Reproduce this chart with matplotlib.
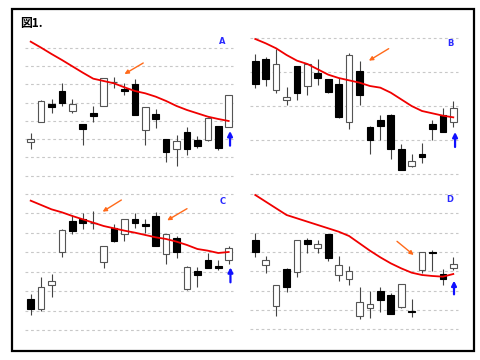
import numpy as np
import matplotlib
matplotlib.use("Agg")
import matplotlib.pyplot as plt
from matplotlib.patches import Rectangle

plt.rcParams['font.family'] = ['Noto Sans CJK JP', 'DejaVu Sans']

# ---- data: open / high / low / close and moving average per panel ----
a_open = [17.4, 23.5, 28.9, 32.8, 26.8, 22.9, 26.0, 28.3, 35.5, 33.3, 34.8, 21.1, 25.9, 18.4, 15.2, 20.4, 18.0, 18.1, 22.1, 22.0]
a_high = [20.0, 30.0, 30.2, 35.0, 30.4, 22.9, 28.3, 36.7, 36.8, 35.0, 36.2, 28.0, 27.3, 18.4, 19.5, 21.9, 19.2, 24.8, 22.1, 31.6]
a_low = [15.3, 23.5, 26.2, 28.2, 26.2, 16.4, 23.5, 28.3, 33.5, 31.5, 25.4, 16.6, 21.7, 11.4, 10.3, 13.5, 15.6, 17.6, 15.0, 22.0]
a_close = [18.2, 29.8, 27.9, 29.2, 28.8, 21.4, 25.2, 36.5, 35.5, 32.6, 25.4, 28.0, 24.4, 14.5, 17.6, 15.4, 16.2, 24.5, 15.6, 31.4]
a_ma = [47.5, 45.7, 43.8, 42.0, 40.1, 38.2, 36.4, 35.7, 35.0, 33.8, 32.7, 32.0, 31.0, 29.7, 28.2, 27.0, 26.0, 25.0, 24.3, 23.7]

b_open = [41.7, 42.2, 33.0, 30.1, 40.2, 34.2, 38.2, 36.2, 34.7, 23.3, 38.7, 22.0, 23.9, 25.5, 15.3, 10.3, 13.8, 22.9, 25.5, 23.3]
b_high = [43.7, 43.0, 45.2, 34.0, 40.2, 40.7, 42.2, 36.2, 36.7, 44.0, 41.7, 22.2, 25.5, 25.7, 16.8, 13.8, 17.2, 24.0, 27.6, 29.6]
b_low = [33.5, 34.2, 32.0, 28.5, 30.0, 31.5, 34.5, 32.0, 24.5, 21.3, 28.5, 13.7, 17.9, 12.2, 9.1, 10.0, 11.2, 17.9, 20.4, 21.9]
b_close = [34.7, 36.2, 40.7, 31.0, 32.0, 40.7, 36.6, 32.5, 24.8, 43.5, 31.5, 17.9, 22.3, 15.2, 9.1, 11.7, 12.8, 21.4, 20.4, 27.6]
b_ma = [48.3, 47.0, 45.5, 43.5, 41.8, 40.8, 39.2, 37.6, 36.6, 35.9, 35.2, 34.2, 33.7, 32.2, 30.2, 28.2, 26.7, 26.0, 25.3, 24.8]

c_open = [14.4, 11.4, 18.4, 28.3, 37.8, 38.4, 37.0, 25.5, 35.5, 33.7, 38.4, 36.7, 39.1, 27.9, 32.5, 17.2, 22.7, 26.1, 24.3, 26.0]
c_high = [15.7, 20.8, 21.8, 35.2, 39.5, 40.2, 40.7, 30.3, 36.7, 38.4, 40.2, 38.2, 40.3, 33.7, 33.2, 24.2, 23.8, 28.1, 26.0, 30.2]
c_low = [9.5, 10.8, 14.8, 27.0, 33.7, 35.4, 35.4, 23.7, 31.3, 31.8, 35.5, 34.0, 30.1, 24.9, 26.7, 17.0, 18.0, 23.7, 23.0, 24.8]
c_close = [11.4, 17.9, 19.6, 34.9, 34.8, 37.2, 37.0, 30.3, 31.7, 38.4, 37.2, 36.1, 30.1, 33.7, 28.3, 23.8, 21.4, 23.7, 23.7, 29.5]
c_ma = [43.8, 42.5, 41.2, 40.3, 39.2, 38.2, 37.2, 36.2, 35.5, 34.8, 34.2, 33.5, 32.8, 32.3, 31.5, 30.5, 29.3, 28.8, 28.1, 28.4]

d_open = [31.9, 24.5, 12.1, 23.2, 22.5, 31.9, 29.5, 33.7, 21.4, 20.2, 9.2, 11.6, 16.7, 15.5, 12.0, 10.8, 23.1, 28.5, 21.9, 23.7]
d_high = [34.0, 27.2, 18.6, 23.5, 31.9, 32.7, 32.0, 33.7, 27.1, 24.1, 17.8, 16.7, 17.9, 16.1, 18.9, 14.4, 28.4, 28.9, 23.2, 26.8]
d_low = [26.8, 22.0, 9.3, 16.3, 20.8, 28.0, 28.0, 25.7, 19.7, 18.5, 8.2, 8.7, 10.5, 9.8, 11.6, 8.8, 22.1, 22.7, 18.6, 23.1]
d_close = [28.4, 26.0, 18.6, 17.9, 31.9, 30.8, 30.7, 26.7, 24.4, 22.7, 13.3, 12.7, 13.9, 9.8, 18.7, 10.4, 28.4, 28.1, 20.3, 24.9]
d_ma = [45.5, 43.5, 41.5, 39.5, 38.5, 37.5, 36.5, 35.5, 34.5, 33.2, 31.0, 28.8, 26.8, 25.0, 23.5, 22.2, 21.5, 21.2, 21.0, 21.8]

labels = ["A", "B", "C", "D"]
grid_levels = [np.linspace(7.3, 45.7, 8), np.linspace(7.8, 48.5, 5),
               np.linspace(5.0, 45.8, 8), np.linspace(5.2, 45.8, 8)]
# orange arrows (tail -> head) in (index, price)
orange = [[((10.8, 41.1), (9.0, 37.8))],
          [((12.8, 45.4), (10.9, 41.8))],
          [((8.7, 44.0), (6.9, 40.5)), ((15.0, 41.4), (13.1, 37.9))],
          [((13.6, 31.6), (15.2, 27.5))]]
# blue arrows
blue = [((19.13, 16.3), (19.13, 20.7)), ((19.17, 15.9), (19.17, 20.4)),
        ((19.17, 19.3), (19.17, 23.8)), ((19.07, 15.7), (19.07, 19.8))]
label_pos = [(18.4, 47.7), (18.7, 46.8), (18.4, 43.6), (18.7, 44.3)]

panels = [(a_open, a_high, a_low, a_close, a_ma),
          (b_open, b_high, b_low, b_close, b_ma),
          (c_open, c_high, c_low, c_close, c_ma),
          (d_open, d_high, d_low, d_close, d_ma)]

# layout: pixel boxes and pixel->data mapping
W, H = 480, 360
boxes = [(22, 36, 236, 180), (246, 30, 462, 180), (22, 185, 236, 335), (246, 185, 462, 335)]
x0s = [30.7, 255.3, 30.7, 255.3]
dx = 10.42
yref = [(60, 0), (60, 0), (50, 180), (50, 180)]
grid_px = [(25, 233), (250, 458), (25, 233), (250, 458)]

fig = plt.figure(figsize=(4.8, 3.6), dpi=100)
fig.patch.set_facecolor("white")

for k in range(4):
    o, h, l, c, ma = panels[k]
    px0, py0, px1, py1 = boxes[k]
    ax = fig.add_axes([px0 / W, 1 - py1 / H, (px1 - px0) / W, (py1 - py0) / H])
    ax.set_xlim((px0 - x0s[k]) / dx, (px1 - x0s[k]) / dx)
    top = yref[k][0] - 0.3 * (py0 - yref[k][1])
    bot = yref[k][0] - 0.3 * (py1 - yref[k][1])
    ax.set_ylim(bot, top)
    ax.axis("off")

    gx0 = (grid_px[k][0] - x0s[k]) / dx
    gx1 = (grid_px[k][1] - x0s[k]) / dx
    ax.hlines(grid_levels[k], gx0, gx1, colors="#c8c8c8", linewidth=0.8,
              linestyles=(0, (2.5, 2.5)), zorder=0)

    idx = np.arange(len(o))
    for i in idx:
        ax.vlines(i, l[i], h[i], colors="#444444", linewidth=0.8, zorder=2)
        lo, hi = min(o[i], c[i]), max(o[i], c[i])
        if hi - lo < 0.05:
            ax.hlines(o[i], i - 0.32, i + 0.32, colors="#555555", linewidth=0.9, zorder=3)
            continue
        hgt = max(hi - lo, 0.4)
        fc = "black" if c[i] < o[i] else "white"
        ax.add_patch(Rectangle((i - 0.32, lo), 0.64, hgt, facecolor=fc,
                               edgecolor="#555555" if fc == "white" else "black",
                               linewidth=0.8, zorder=3))

    ax.plot(idx, ma, color="#f00000", linewidth=1.3, zorder=4)

    for tail, head in orange[k]:
        ax.annotate("", xy=head, xytext=tail,
                    arrowprops=dict(arrowstyle="-|>", color="#ff6a1a", lw=1.0,
                                    mutation_scale=6, shrinkA=0, shrinkB=0), zorder=5)
    tail, head = blue[k]
    ax.annotate("", xy=head, xytext=tail,
                arrowprops=dict(arrowstyle="-|>", color="#1010ff", lw=1.6,
                                mutation_scale=7, shrinkA=0, shrinkB=0), zorder=5)
    ax.text(label_pos[k][0], label_pos[k][1], labels[k], color="#2a2aff",
            fontsize=6, fontweight="bold", ha="center", va="center",
            family=["DejaVu Sans"])

# outer frame and title
fig.add_artist(Rectangle((12 / W, 1 - 351 / H), (474 - 12) / W, (351 - 9) / H,
                         transform=fig.transFigure, fill=False, edgecolor="black",
                         linewidth=1.6))
fig.text(20 / W, 1 - 23 / H, "図1.", fontsize=8.5, fontweight="bold", ha="left", va="center",
         family=["Noto Sans CJK JP", "DejaVu Sans"])

fig.savefig("out.png", dpi=100)
